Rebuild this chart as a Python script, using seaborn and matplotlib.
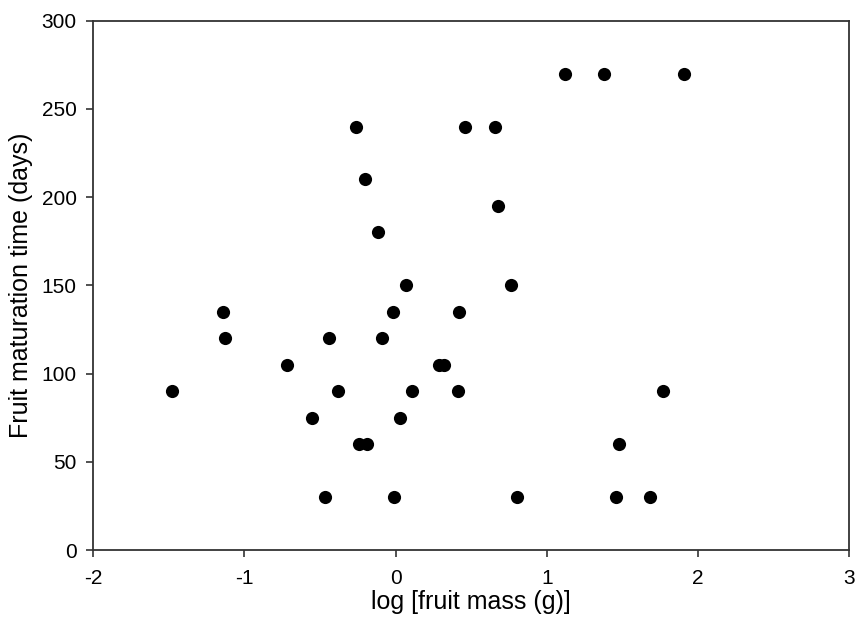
import matplotlib
matplotlib.use("Agg")
import matplotlib.pyplot as plt
import seaborn as sns
import pandas as pd

# log fruit mass (g) and maturation time (days)
log_mass = [1.12, 1.38, 1.91, -0.26, 0.46, 0.66, -0.20, 0.68, -0.12, 0.07,
            0.76, -1.14, -0.02, 0.42, -1.13, -0.44, -0.09, -0.72, 0.29, 0.32,
            -1.48, -0.38, 0.11, 0.41, 1.77, -0.55, 0.03, -0.24, -0.19, 1.48,
            -0.47, -0.01, 0.80, 1.46, 1.68]
mat_days = [270, 270, 270, 240, 240, 240, 210, 195, 180, 150,
            150, 135, 135, 135, 120, 120, 120, 105, 105, 105,
            90, 90, 90, 90, 90, 75, 75, 60, 60, 60,
            30, 30, 30, 30, 30]

xticks = [-2, -1, 0, 1, 2, 3]
yticks = [0, 50, 100, 150, 200, 250, 300]

df = pd.DataFrame({"log_mass": log_mass, "days": mat_days})

sns.set_style("ticks")
plt.rcParams['font.family'] = ['Liberation Sans', 'DejaVu Sans']

fig = plt.figure(figsize=(8.56, 6.26), dpi=100)
ax = fig.add_axes([0.109, 0.1214, 0.883, 0.8456])

sns.scatterplot(data=df, x="log_mass", y="days", ax=ax, color="black",
                s=90, edgecolor="black", linewidth=0, zorder=3)

ax.set_xlim(-2, 3)
ax.set_ylim(0, 300)
ax.set_xticks(xticks)
ax.set_xticklabels([str(t) for t in xticks])
ax.set_yticks(yticks)
ax.set_yticklabels([str(t) for t in yticks])
ax.tick_params(direction="out", length=5, width=1.2, color="#333333",
               labelsize=15, labelcolor="black")
ax.tick_params(axis="x", pad=9)
ax.tick_params(axis="y", pad=7)
for sp in ax.spines.values():
    sp.set_visible(True)
    sp.set_color("#333333")
    sp.set_linewidth(1.3)

ax.set_xlabel("log [fruit mass (g)]", fontsize=18, labelpad=1, color="black")
ax.set_ylabel("Fruit maturation time (days)", fontsize=18, labelpad=6,
              color="black")

fig.savefig("out.png", dpi=100)
plt.close(fig)
